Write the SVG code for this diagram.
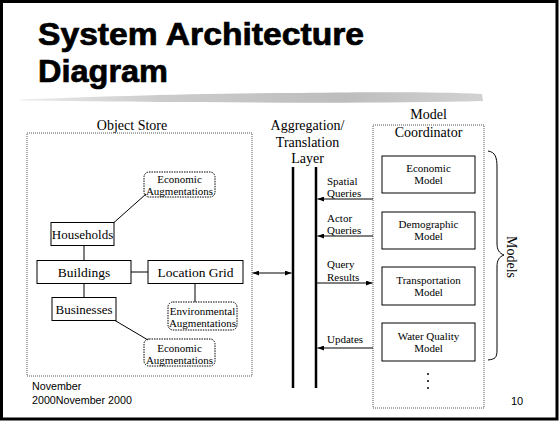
<svg xmlns="http://www.w3.org/2000/svg" width="559" height="424" viewBox="0 0 559 424">
<defs>
<style>
.t{font-family:"Liberation Serif","Times New Roman",serif;fill:#000;text-anchor:middle}
.s{font-family:"Liberation Sans",Arial,sans-serif;fill:#000}
.box{fill:#fff;stroke:#000;stroke-width:1}
.dot{fill:none;stroke:#555;stroke-width:1;stroke-dasharray:1 1}
.aug{fill:#fff;stroke:#000;stroke-width:1;stroke-dasharray:1.5 1}
.ln{stroke:#000;stroke-width:1;fill:none}
.bar{stroke:#000;stroke-width:2.5;fill:none}
</style>
<marker id="ah" viewBox="0 0 8 6" refX="8" refY="3" markerWidth="7" markerHeight="5" orient="auto-start-reverse" markerUnits="userSpaceOnUse"><path d="M0,0 L8,3 L0,6 z" fill="#000"/></marker>
<linearGradient id="brush" x1="0" y1="0" x2="1" y2="0">
<stop offset="0" stop-color="#ececec"/>
<stop offset="0.3" stop-color="#cccccc"/>
<stop offset="0.7" stop-color="#bdbdbd"/>
<stop offset="1" stop-color="#d2d2d2"/>
</linearGradient>
</defs>
<rect x="0" y="0" width="559" height="424" fill="#fff"/>
<rect x="1.5" y="1.5" width="555.5" height="417.5" fill="none" stroke="#000" stroke-width="3"/>
<g id="title">
<text class="s" x="38" y="45" font-size="31" font-weight="bold" stroke="#000" stroke-width="0.7" textLength="326" lengthAdjust="spacingAndGlyphs">System Architecture</text>
<text class="s" x="38" y="82" font-size="31" font-weight="bold" stroke="#000" stroke-width="0.7" textLength="130" lengthAdjust="spacingAndGlyphs">Diagram</text>
<path d="M20,99.5 C90,97 200,93 300,93 C380,92 440,92 482,94 L483,101 C400,103 300,103 200,102 C120,102 60,101 20,100.5 z" fill="url(#brush)"/>
</g>
<g id="object-store">
<rect class="dot" x="27" y="133" width="225" height="243"/>
<text class="t" x="132" y="130" font-size="14">Object Store</text>
</g>
<g id="econ-aug-1">
<rect class="aug" x="144" y="172" width="71" height="25" rx="5"/>
<text class="t" x="179.5" y="183" font-size="11">Economic</text>
<text class="t" x="179.5" y="194.5" font-size="11">Augmentations</text>
</g>
<g id="households">
<rect class="box" x="51" y="222.5" width="63" height="23"/>
<text class="t" x="82.5" y="239" font-size="13">Households</text>
</g>
<g id="buildings">
<rect class="box" x="37" y="260.5" width="94" height="23"/>
<text class="t" x="84" y="277" font-size="13.5">Buildings</text>
</g>
<g id="location-grid">
<rect class="box" x="148" y="260.5" width="95" height="23"/>
<text class="t" x="195.5" y="277" font-size="13.5">Location Grid</text>
</g>
<g id="businesses">
<rect class="box" x="52" y="297.5" width="64" height="23"/>
<text class="t" x="84" y="314" font-size="13">Businesses</text>
</g>
<g id="env-aug">
<rect class="aug" x="168" y="302" width="69" height="28" rx="5"/>
<text class="t" x="202.5" y="315" font-size="11">Environmental</text>
<text class="t" x="202.5" y="327" font-size="11">Augmentations</text>
</g>
<g id="econ-aug-2">
<rect class="aug" x="144" y="339" width="71" height="27" rx="5"/>
<text class="t" x="179.5" y="352" font-size="11">Economic</text>
<text class="t" x="179.5" y="363.5" font-size="11">Augmentations</text>
</g>
<g id="aggregation-layer">
<text class="t" x="307.5" y="130" font-size="14">Aggregation/</text>
<text class="t" x="307.5" y="147" font-size="14">Translation</text>
<text class="t" x="307.5" y="163" font-size="14">Layer</text>
<line class="bar" x1="293" y1="167" x2="293" y2="388"/>
<line class="bar" x1="316" y1="167" x2="316" y2="388"/>
</g>
<g id="model-coordinator">
<rect class="dot" x="373" y="125" width="111" height="283"/>
<text class="t" x="428.5" y="119" font-size="14">Model</text>
<text class="t" x="428.5" y="137" font-size="14">Coordinator</text>
<circle cx="428" cy="374" r="1"/>
<circle cx="428" cy="381" r="1"/>
<circle cx="428" cy="388" r="1"/>
</g>
<g id="economic-model">
<rect class="box" x="382" y="156" width="93" height="37"/>
<text class="t" x="428.5" y="172" font-size="11">Economic</text>
<text class="t" x="428.5" y="184" font-size="11">Model</text>
</g>
<g id="demographic-model">
<rect class="box" x="382" y="212" width="93" height="37"/>
<text class="t" x="428.5" y="228" font-size="11">Demographic</text>
<text class="t" x="428.5" y="240" font-size="11">Model</text>
</g>
<g id="transportation-model">
<rect class="box" x="382" y="267" width="93" height="38"/>
<text class="t" x="428.5" y="284" font-size="11">Transportation</text>
<text class="t" x="428.5" y="296" font-size="11">Model</text>
</g>
<g id="water-quality-model">
<rect class="box" x="382" y="323" width="93" height="38"/>
<text class="t" x="428.5" y="340" font-size="11">Water Quality</text>
<text class="t" x="428.5" y="352" font-size="11">Model</text>
</g>
<g id="models-brace">
<path class="ln" d="M488,151 C495,152 497,157 497,167 L497,243 C497,250 499,253 504,255 C499,257 497,260 497,267 L497,350 C497,358 495,359 488,360"/>
<text class="t" x="507" y="257" font-size="14" transform="rotate(90 507 257)">Models</text>
</g>
<g id="connectors">
<line class="ln" x1="114" y1="222.5" x2="146" y2="194"/>
<line class="ln" x1="84" y1="245.5" x2="84" y2="260.5"/>
<line class="ln" x1="131" y1="272" x2="148" y2="272"/>
<line class="ln" x1="84" y1="283.5" x2="84" y2="297.5"/>
<line class="ln" x1="195" y1="283.5" x2="195" y2="302"/>
<line class="ln" x1="115" y1="320.5" x2="148" y2="340"/>
<line class="ln" x1="252.5" y1="273" x2="291.5" y2="273" marker-start="url(#ah)" marker-end="url(#ah)"/>
<line class="ln" x1="373" y1="199" x2="317.5" y2="199" marker-end="url(#ah)"/>
<line class="ln" x1="373" y1="236" x2="317.5" y2="236" marker-end="url(#ah)"/>
<line class="ln" x1="317" y1="283" x2="372.5" y2="283" marker-end="url(#ah)"/>
<line class="ln" x1="373" y1="348" x2="317.5" y2="348" marker-end="url(#ah)"/>
<g font-size="11">
<text class="t" x="327" y="185" style="text-anchor:start">Spatial</text>
<text class="t" x="327" y="197" style="text-anchor:start">Queries</text>
<text class="t" x="327" y="222" style="text-anchor:start">Actor</text>
<text class="t" x="327" y="234" style="text-anchor:start">Queries</text>
<text class="t" x="327" y="268" style="text-anchor:start">Query</text>
<text class="t" x="327" y="281" style="text-anchor:start">Results</text>
<text class="t" x="327" y="343" style="text-anchor:start">Updates</text>
</g>
</g>
<g id="footer">
<text class="s" x="32" y="390" font-size="10.7">November</text>
<text class="s" x="32" y="404" font-size="10.7">2000November 2000</text>
<text class="s" x="511" y="405" font-size="11">10</text>
</g>
</svg>
